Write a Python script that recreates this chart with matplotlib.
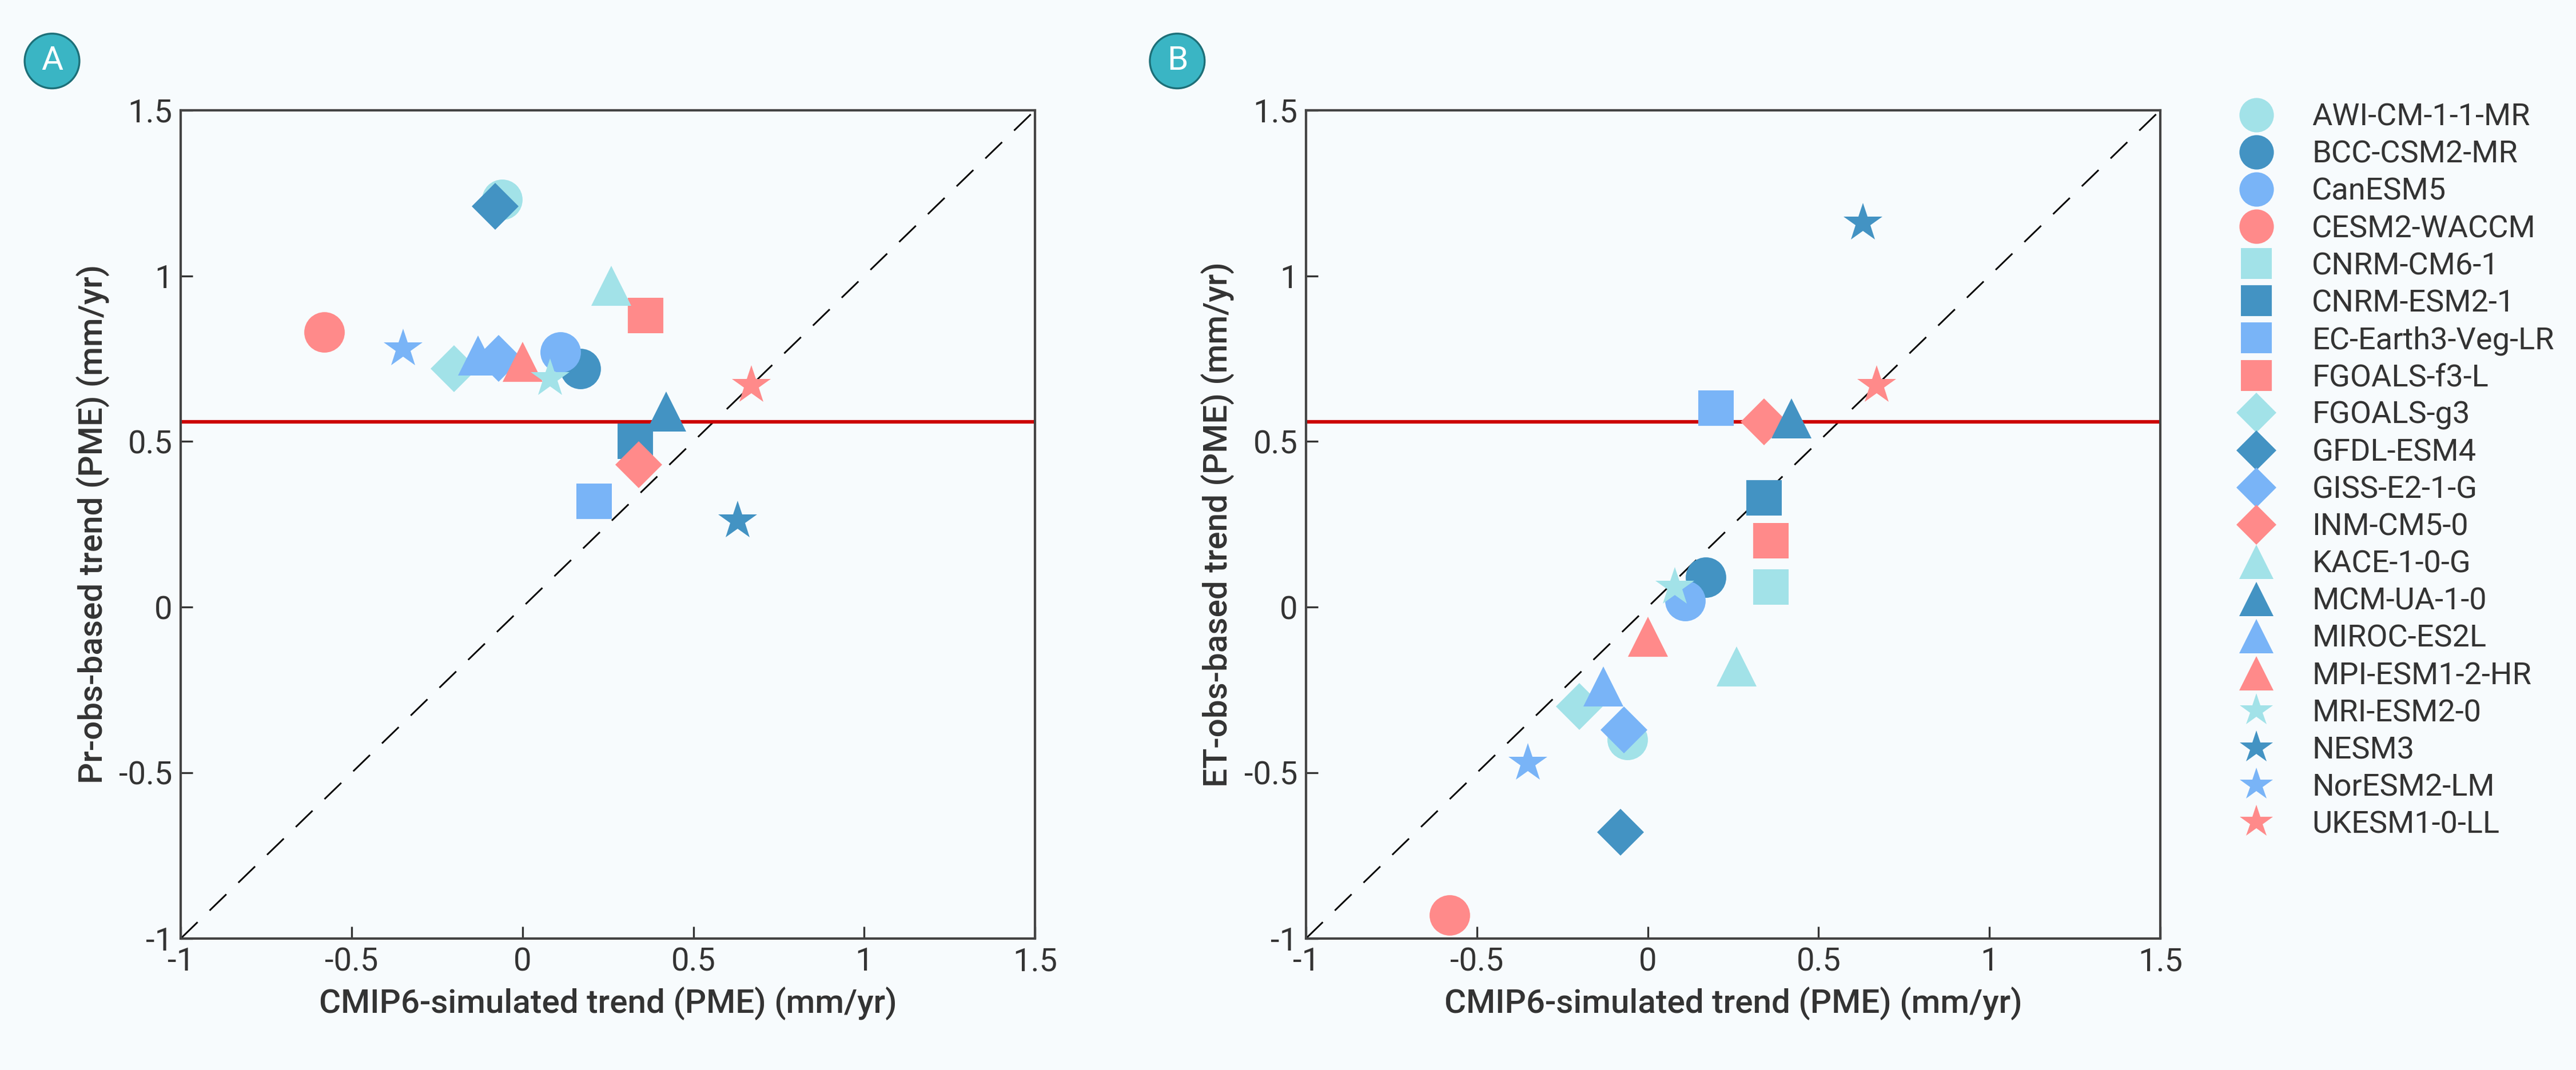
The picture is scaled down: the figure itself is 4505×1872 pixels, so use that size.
import matplotlib
matplotlib.use("Agg")
import matplotlib.pyplot as plt
from matplotlib.lines import Line2D

plt.rcParams['font.family'] = ['Roboto', 'DejaVu Sans']

models = ["AWI-CM-1-1-MR", "BCC-CSM2-MR", "CanESM5", "CESM2-WACCM", "CNRM-CM6-1",
          "CNRM-ESM2-1", "EC-Earth3-Veg-LR", "FGOALS-f3-L", "FGOALS-g3", "GFDL-ESM4",
          "GISS-E2-1-G", "INM-CM5-0", "KACE-1-0-G", "MCM-UA-1-0", "MIROC-ES2L",
          "MPI-ESM1-2-HR", "MRI-ESM2-0", "NESM3", "NorESM2-LM", "UKESM1-0-LL"]
sim_x = [-0.06, 0.17, 0.11, -0.58, 0.36, 0.34, 0.20, 0.36, -0.20, -0.08,
         -0.07, 0.34, 0.26, 0.42, -0.13, 0.00, 0.08, 0.63, -0.35, 0.67]
pr_y = [1.23, 0.72, 0.77, 0.83, 0.50, 0.50, 0.32, 0.88, 0.72, 1.21,
        0.75, 0.43, 0.97, 0.59, 0.76, 0.74, 0.69, 0.26, 0.78, 0.67]
pr_x = [-0.06, 0.17, 0.11, -0.58, 0.33, 0.33, 0.21, 0.36, -0.20, -0.08,
        -0.07, 0.34, 0.26, 0.42, -0.13, 0.00, 0.08, 0.63, -0.35, 0.67]
et_y = [-0.40, 0.09, 0.02, -0.93, 0.06, 0.33, 0.60, 0.20, -0.30, -0.68,
        -0.37, 0.56, -0.18, 0.57, -0.24, -0.09, 0.06, 1.16, -0.47, 0.67]
obs_line = 0.56

palette = ["#a2e2e8", "#4393c3", "#79b4f7", "#ff8a8a"]
shapes = ["o", "s", "D", "^", "*"]
sizes = {"o": 17, "s": 15, "D": 14, "^": 17, "*": 17}

fig = plt.figure(figsize=(15.017, 6.24), dpi=300, facecolor="#f7fbfd")
axA = fig.add_axes([0.0702, 0.123, 0.3316, 0.774])
axB = fig.add_axes([0.507, 0.123, 0.3316, 0.774])

def panel(ax, xs, ys, ylabel, tag):
    ax.set_facecolor("#f7fbfd")
    ax.plot([-1, 1.5], [-1, 1.5], color="k", lw=0.7, dashes=(14, 10), zorder=1)
    ax.axhline(obs_line, color="#cc0000", lw=1.5, zorder=2)
    for i, name in enumerate(models):
        m = shapes[i // 4]
        ax.plot(xs[i], ys[i], marker=m, ls="none", ms=sizes[m],
                color=palette[i % 4], mec="none", zorder=3)
    ax.set_xlim(-1, 1.5); ax.set_ylim(-1, 1.5)
    ax.set_xticks([-1, -0.5, 0, 0.5, 1, 1.5])
    ax.set_yticks([-1, -0.5, 0, 0.5, 1, 1.5])
    ax.set_xticklabels(["-1", "-0.5", "0", "0.5", "1", "1.5"])
    ax.set_yticklabels(["-1", "-0.5", "0", "0.5", "1", "1.5"])
    ax.tick_params(direction="in", labelsize=13.5, colors="#333333", length=5)
    for s in ax.spines.values():
        s.set_color("#444444"); s.set_linewidth(1.0)
    ax.set_xlabel("CMIP6-simulated trend (PME) (mm/yr)", fontsize=14,
                  fontweight="medium", color="#333333")
    ax.set_ylabel(ylabel, fontsize=14, fontweight="medium", color="#333333")
    pos = ax.get_position()
    fig.text(pos.x0 - 0.05, 0.943, tag, ha="center", va="center", fontsize=14,
             color="white", bbox=dict(boxstyle="circle,pad=0.35", fc="#3ab5c4",
                                      ec="#1d6f78", lw=0.8))

panel(axA, pr_x, pr_y, "Pr-obs-based trend (PME) (mm/yr)", "A")
panel(axB, sim_x, et_y, "ET-obs-based trend (PME) (mm/yr)", "B")

handles = []
for i, name in enumerate(models):
    m = shapes[i // 4]
    handles.append(Line2D([], [], marker=m, ls="none", ms=sizes[m] * 0.85,
                          color=palette[i % 4], mec="none", label=name))
fig.legend(handles=handles, loc="upper left", bbox_to_anchor=(0.853, 0.93),
           frameon=False, fontsize=13, labelspacing=0.26, handletextpad=0.8,
           labelcolor="#333333")

fig.savefig("out.png", dpi=300, facecolor=fig.get_facecolor())
